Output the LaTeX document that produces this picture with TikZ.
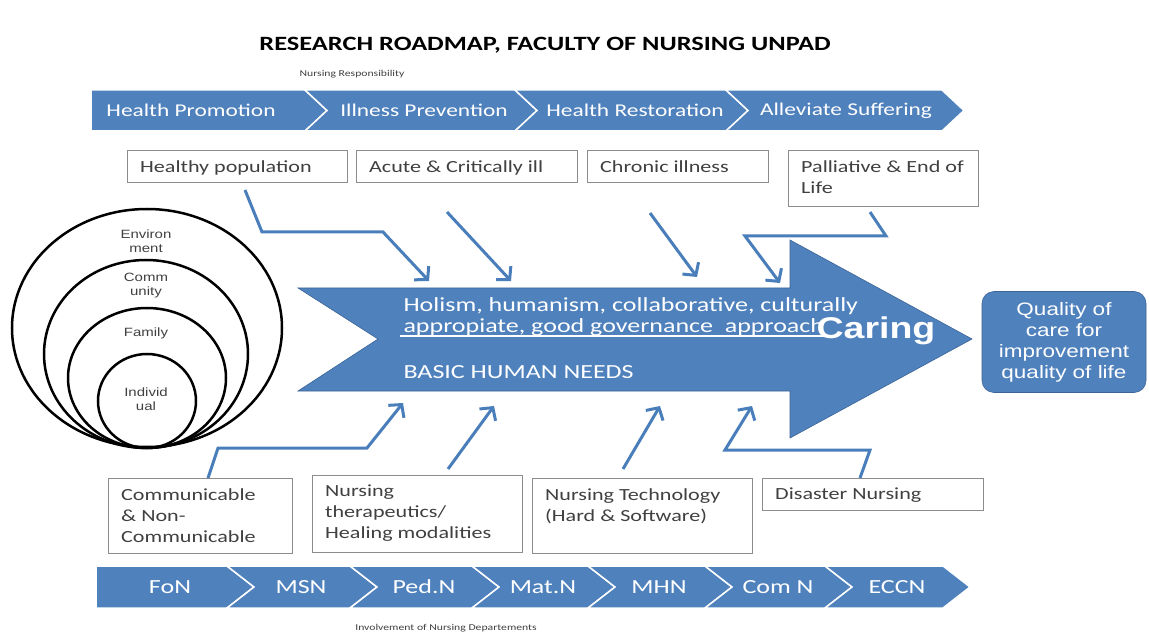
\documentclass[tikz,border=0pt]{standalone}
\usepackage{fontspec}
\setmainfont{Carlito}[FakeStretch=1.3]
\newfontfamily\arialw{Liberation Sans}[FakeStretch=1.25]
\usetikzlibrary{positioning,arrows.meta}
\definecolor{nblue}{RGB}{79,129,189}
\definecolor{nline}{RGB}{74,126,187}
\definecolor{nedge}{RGB}{60,100,150}
\definecolor{boxgray}{RGB}{140,140,140}
\definecolor{txtgray}{RGB}{64,64,64}
\newcommand{\cellbox}[3]{\parbox[t][#2][t]{#1}{\raggedright #3}}

\begin{document}
\begin{tikzpicture}[x=1pt,y=-1pt]
   \tikzset{bandtxt/.style = {text=white, font=\fontsize{18}{20}\selectfont}, }
   \tikzset{depttxt/.style = {text=white, font=\fontsize{20}{22}\selectfont}, }
   \tikzset{caption/.style = {text=txtgray, font=\fontsize{9}{11}\selectfont} }
   \tikzset{topic/.style = {rectangle, draw=boxgray, fill=white, anchor=north west, inner xsep=13pt, inner ysep=10pt, text=txtgray, font=\fontsize{17}{21}\selectfont} }
   \tikzset{ring/.style = {draw=black, line width=2.5pt} }
   \tikzset{ringtxt/.style = {align=center, text=txtgray, font=\arialw\fontsize{12}{14}\selectfont} }
   \tikzset{arrowtxt/.style = {anchor=west, text=white, font=\fontsize{20}{22}\selectfont} }
   \tikzset{feed/.style = {draw=nline, line width=3pt, -{Straight Barb[length=9pt,width=20pt]}} }
   \tikzset{segment/.style = {fill=nblue, draw=white, line width=1.5pt} }

   \useasboundingbox (0,0) rectangle (1149,636);

   \node[font=\bfseries\fontsize{20.3}{22}\selectfont, text=black] (title) at (545,45) {RESEARCH ROADMAP, FACULTY OF NURSING UNPAD};

   % nursing responsibility band
   \node[caption] (resp) at (352,74) {Nursing Responsibility};
   \foreach \l/\r/\n in {91/305/0, 305/515/22, 515/726/22, 726/942/22}
     \path[segment] (\l,90) -- (\r,90) -- (\r+22,110.5) -- (\r,131) -- (\l,131) -- (\l+\n,110.5) -- cycle;
   \node[bandtxt] (hprom) at (191,110.5) {Health Promotion};
   \node[bandtxt] (iprev) at (424,110.5) {Illness Prevention};
   \node[bandtxt] (hrest) at (635,110.5) {Health Restoration};
   \node[bandtxt] (asuff) at (846,110.5) {Alleviate Suffering};

   % populations
   \node[topic] (healthy) at (127,150) {\cellbox{194pt}{12pt}{Healthy population}};
   \node[topic] (acute) at (356,150) {\cellbox{195pt}{12pt}{Acute \& Critically ill}};
   \node[topic] (chronic) at (587,150) {\cellbox{155pt}{12pt}{Chronic illness}};
   \node[topic] (palliat) at (788,150) {\cellbox{164pt}{36pt}{Palliative \& End of\\Life}};

   % levels of client
   \draw[ring] (147,328) ellipse [x radius=135pt, y radius=119pt];
   \draw[ring] (146,354) ellipse [x radius=102pt, y radius=94pt];
   \draw[ring] (147,378) ellipse [x radius=79pt, y radius=70pt];
   \draw[ring] (147,401) ellipse [x radius=49pt, y radius=47pt];
   \node[ringtxt] (envir) at (146,241) {Environ\\ment};
   \node[ringtxt] (commu) at (146,286) {Comm\\unity};
   \node[ringtxt] (family) at (146,333) {Family};
   \node[ringtxt] (indiv) at (146,399) {Individ\\ual};

   % caring arrow
   \filldraw[fill=nblue, draw=nedge, line width=.6pt]
   (298,288) -- (790,288) -- (790,240) -- (972,339) -- (790,438) -- (790,391) -- (298,391) -- (378,339) -- cycle;
   \node[arrowtxt] (holism) at (400,306) {Holism, humanism, collaborative, culturally};
   \node[arrowtxt] (approach) at (400,327) {appropiate, good governance\ \ approach};
   \draw[white, line width=2pt] ([yshift=3pt]approach.south west) -- ([yshift=3pt]approach.south east);
   \node[text=white, font=\arialw\bfseries\fontsize{30}{32}\selectfont] (caring) at (876,331) {Caring};
   \node[arrowtxt] (needs) at (400,372) {BASIC HUMAN NEEDS};

   \node[rectangle, rounded corners=12pt, fill=nblue, draw=nedge, line width=.6pt, minimum width=164pt, minimum height=101pt, align=center, text=white, font=\arialw\fontsize{18}{21}\selectfont] (quality) at (1064,342) {Quality of\\care for\\improvement\\quality of life};

   % focus areas
   \node[topic] (commun) at (108,478) {\cellbox{158pt}{55pt}{Communicable\\\& Non-\\Communicable}};
   \node[topic] (therap) at (312,475) {\cellbox{184pt}{57pt}{Nursing\\therapeutics/\\Healing modalities}};
   \node[topic] (techno) at (532,478) {\cellbox{194pt}{55pt}{Nursing Technology\\(Hard \& Software)}};
   \node[topic] (disast) at (762,478) {\cellbox{195pt}{11pt}{Disaster Nursing}};

   % arrows into caring
   \coordinate (hp0) at (245,190);  \coordinate (hp1) at (429,281);
   \coordinate (ac0) at (447,212);  \coordinate (ac1) at (511,281);
   \coordinate (ch0) at (650,213);  \coordinate (ch1) at (697,277);
   \coordinate (pa0) at (870,212);  \coordinate (pa1) at (780,283);
   \coordinate (cm0) at (208,478);  \coordinate (cm1) at (403,403);
   \coordinate (th0) at (448,469);  \coordinate (th1) at (494,406);
   \coordinate (te0) at (623,469);  \coordinate (te1) at (660,406);
   \coordinate (di0) at (860,478);  \coordinate (di1) at (752,406);
   \draw[feed] (hp0) -- (262,232) -- (383,232) -- (hp1);
   \draw[feed] (ac0) -- (ac1);
   \draw[feed] (ch0) -- (ch1);
   \draw[feed] (pa0) -- (886,236) -- (745,236) -- (pa1);
   \draw[feed] (cm0) -- (218,448) -- (367,448) -- (cm1);
   \draw[feed] (th0) -- (th1);
   \draw[feed] (te0) -- (te1);
   \draw[feed] (di0) -- (870,450) -- (725,450) -- (di1);

   % departments band
   \foreach \l/\r/\n in {96/227/0, 227/350/27, 350/472/27, 472/588/27, 588/705/27, 705/825/27, 825/943/27}
     \path[segment] (\l,566) -- (\r,566) -- (\r+27,587) -- (\r,608) -- (\l,608) -- (\l+\n,587) -- cycle;
   \node[depttxt] (fon) at (170,587) {FoN};
   \node[depttxt] (msn) at (301,587) {MSN};
   \node[depttxt] (pedn) at (424,587) {Ped.N};
   \node[depttxt] (matn) at (543,587) {Mat.N};
   \node[depttxt] (mhn) at (659,587) {MHN};
   \node[depttxt] (comn) at (778,587) {Com N};
   \node[depttxt] (eccn) at (897,587) {ECCN};
   \node[caption] (involve) at (446,628) {Involvement of Nursing Departements};

\end{tikzpicture}
\end{document}
